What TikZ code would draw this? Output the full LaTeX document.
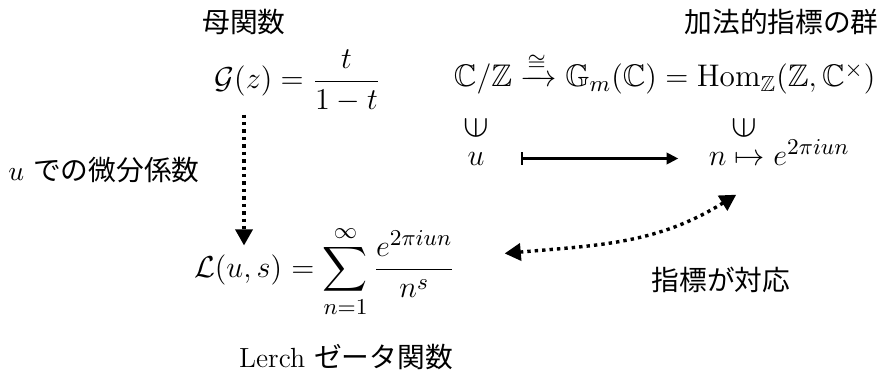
\documentclass[tikz,border=0pt]{standalone}
\usepackage{amsmath,amssymb}
\usepackage{graphicx}
\usepackage{fontspec}
\newfontfamily\jafont{Noto Sans CJK JP}
\usepackage{tikz}
\usetikzlibrary{arrows.meta,positioning}

\begin{document}
\begin{tikzpicture}[
    font=\fontsize{11}{13}\selectfont,
    formula/.style={font=\fontsize{12.4}{15}\selectfont, inner sep=3.33pt},
    caption/.style={align=center},
    corr/.style={line width=1.35pt, dash pattern=on 1.35pt off 1.6pt,
                 -{Triangle[length=6.4pt, width=6.8pt]}},
    corrboth/.style={corr, {Triangle[length=6.4pt, width=6.8pt]}-{Triangle[length=6.4pt, width=6.8pt]}},
    mapsarrow/.style={line width=0.8pt, {Bar[width=5pt]}-{Triangle[length=4.6pt, width=4.6pt]}}
]
\useasboundingbox (0,0) rectangle (12.30,-5.27);
% generating function
\node[formula] (gen) at (4.150,-1.130) {$\displaystyle \mathcal{G}(z)=\frac{t}{1-t}$};
\node[caption] (genname) at (3.403,-0.307) {\jafont 母関数};
% group of additive characters
\node[formula, anchor=base] (chargrp) at (9.270,-1.213)
    {$\mathbb{C}/\mathbb{Z}\xrightarrow{\cong}\mathbb{G}_m(\mathbb{C})
      =\mathrm{Hom}_{\mathbb{Z}}(\mathbb{Z},\mathbb{C}^{\times})$};
\node[caption] (grpname) at (10.900,-0.307) {\jafont 加法的指標の群};
\node[formula] (inleft) at (6.638,-1.785) {\scalebox{1.25}{\rotatebox{90}{$\in$}}};
\node[formula] (inright) at (10.376,-1.785) {\scalebox{1.25}{\rotatebox{90}{$\in$}}};
\node[formula, anchor=base] (u) at (6.638,-2.301) {$u$};
\node[formula, anchor=base west] (emap) at (9.760,-2.301) {$n\mapsto e^{2\pi iun}$};
\draw[mapsarrow, shorten <=11pt, shorten >=8.6pt] (u.east) -- (u.east -| emap.west);
% Lerch zeta function
\node[formula, anchor=base west, inner xsep=0pt] (lhs) at (2.700,-3.863) {$\mathcal{L}(u,s)$};
\node[formula, anchor=base west, inner xsep=0pt] (lerch) at (lhs.base east)
    {${}=\displaystyle\sum_{n=1}^{\infty}\frac{e^{2\pi iun}}{n^{s}}$};
\node[caption] (lerchname) at (4.825,-4.979) {Lerch {\jafont ゼータ関数}};
\node[caption] (diffname) at (1.450,-2.371) {$u$ {\jafont での微分係数}};
\node[caption] (corrname) at (10.055,-3.905) {\jafont 指標が対応};
% connectors
\draw[corr, shorten <=-2.6pt] (gen.south -| genname) -- (genname |- lhs.north);
\draw[corrboth] ([xshift=0.68cm, yshift=0.25cm]lerch.east) to[out=5, in=212]
    ([xshift=-0.60cm, yshift=-0.29cm]emap.south);
\end{tikzpicture}
\end{document}
